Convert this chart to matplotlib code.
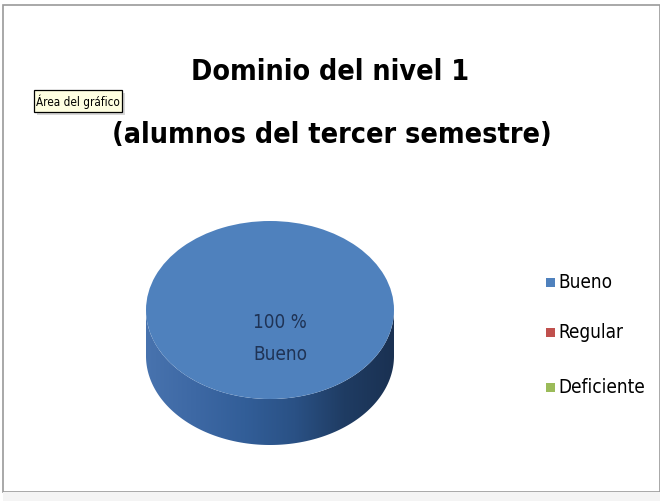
import numpy as np
import matplotlib
matplotlib.use("Agg")
import matplotlib.pyplot as plt
from matplotlib.path import Path
from matplotlib.patches import PathPatch, Rectangle
from matplotlib.colors import LinearSegmentedColormap
from matplotlib import font_manager

categories = ["Bueno", "Regular", "Deficiente"]
values = [100, 0, 0]
title_lines = ["Dominio del nivel 1", "(alumnos del tercer semestre)"]
tooltip_text = "Área del gráfico"

colors = ["#4F81BD", "#C0504D", "#9BBB59"]

entries = font_manager.fontManager.ttflist
names = {f.name for f in entries}
stretch = "normal"
if any(f.name == "DejaVu Sans" and str(f.stretch) in ("condensed", "semi-condensed", "600", "500", "700") for f in entries):
    fam = ["DejaVu Sans"]
    stretch = "condensed"
else:
    fam = [n for n in ["Liberation Sans Narrow", "Liberation Sans", "DejaVu Sans"] if n in names]
plt.rcParams['font.family'] = fam + ["DejaVu Sans"]
plt.rcParams['font.stretch'] = stretch

W, H = 660, 502
fig = plt.figure(figsize=(W / 100, H / 100), dpi=100)
renderer = fig.canvas.get_renderer()


def fit_width(txt, target_px, start):
    size = start
    for _ in range(4):
        txt.set_fontsize(size)
        w = txt.get_window_extent(renderer=renderer).width
        size = size * target_px / w
    txt.set_fontsize(size)
    return size


bg = fig.add_axes([0, 0, 1, 1])
bg.set_xlim(0, W)
bg.set_ylim(H, 0)
bg.axis("off")

# chart border
bg.add_patch(Rectangle((3, 6), W - 3, 487, fill=False, ec="#9a9a9a", lw=1.2))
bg.add_patch(Rectangle((3, 493), W - 3, 9, fc="#f4f4f4", ec="none"))

# pie geometry (pixels)
cx, cy, rx, ry, depth = 270, 311, 124, 89, 46

# side of cylinder
t = np.linspace(0, np.pi, 200)
top_x = cx - rx * np.cos(t)
top_y = cy + ry * np.sin(t)
bot_x = cx + rx * np.cos(t)
bot_y = cy + depth + ry * np.sin(t)
verts = np.concatenate([np.column_stack([top_x, top_y]),
                        np.column_stack([bot_x, bot_y])])
verts = np.vstack([verts, verts[0]])
codes = [Path.MOVETO] + [Path.LINETO] * (len(verts) - 2) + [Path.CLOSEPOLY]
side_patch = PathPatch(Path(verts, codes), fc="none", ec="none")
bg.add_patch(side_patch)
grad = np.linspace(0, 1, 256)[None, :]
cmap = LinearSegmentedColormap.from_list(
    "side", ["#4873ae", "#3d68a4", "#325e98", "#2a5185", "#1f3c63", "#1a3152"])
im = bg.imshow(grad, cmap=cmap, extent=(cx - rx, cx + rx, cy + ry + depth, cy),
               aspect="auto", zorder=1)
im.set_clip_path(side_patch)
bg.set_xlim(0, W)
bg.set_ylim(H, 0)

# top face via pie
pax = fig.add_axes([(cx - rx) / W, 1 - (cy + ry) / H, 2 * rx / W, 2 * ry / H])
wedges, _ = pax.pie(values, colors=colors, startangle=90, counterclock=False, radius=1)
pax.set_aspect("auto")
pax.set_xlim(-1, 1)
pax.set_ylim(-1, 1)
pax.axis("off")

# title
tt1 = bg.text(330, 72, title_lines[0], ha="center", va="center", fontweight="bold", color="black")
tt2 = bg.text(332, 135, title_lines[1], ha="center", va="center", fontweight="bold", color="black")
s = fit_width(tt2, 441, 27)
tt1.set_fontsize(s)

# tooltip
bg.add_patch(Rectangle((37, 94), 88, 22, fc="#bdbdbd", ec="none", alpha=0.6))
bg.add_patch(Rectangle((34, 91), 88, 22, fc="#FFFFE1", ec="black", lw=0.9))
tp = bg.text(78, 102, tooltip_text, ha="center", va="center", color="black")
fit_width(tp, 83, 8.5)

# legend
ys = [283, 333, 388]
for i, (lab, col) in enumerate(zip(categories, colors)):
    bg.add_patch(Rectangle((546, ys[i] - 4.5), 9, 9, fc=col, ec="none"))
lt = []
for i, lab in enumerate(categories):
    lt.append(bg.text(558, ys[i], lab, ha="left", va="center", color="black"))
ls = fit_width(lt[2], 87, 14)
for t_ in lt:
    t_.set_fontsize(ls)

# data label on the pie
total = sum(values)
main = int(np.argmax(values))
t1 = pax.text(280, 323, f"{values[main] / total * 100:.0f} %", ha="center", va="center",
              color="#1F3355", zorder=5, transform=bg.transData, clip_on=False, fontsize=ls)
t2 = pax.text(280, 355, categories[main], ha="center", va="center",
              color="#1F3355", zorder=5, transform=bg.transData, clip_on=False, fontsize=ls)

fig.savefig("out.png", dpi=100)
